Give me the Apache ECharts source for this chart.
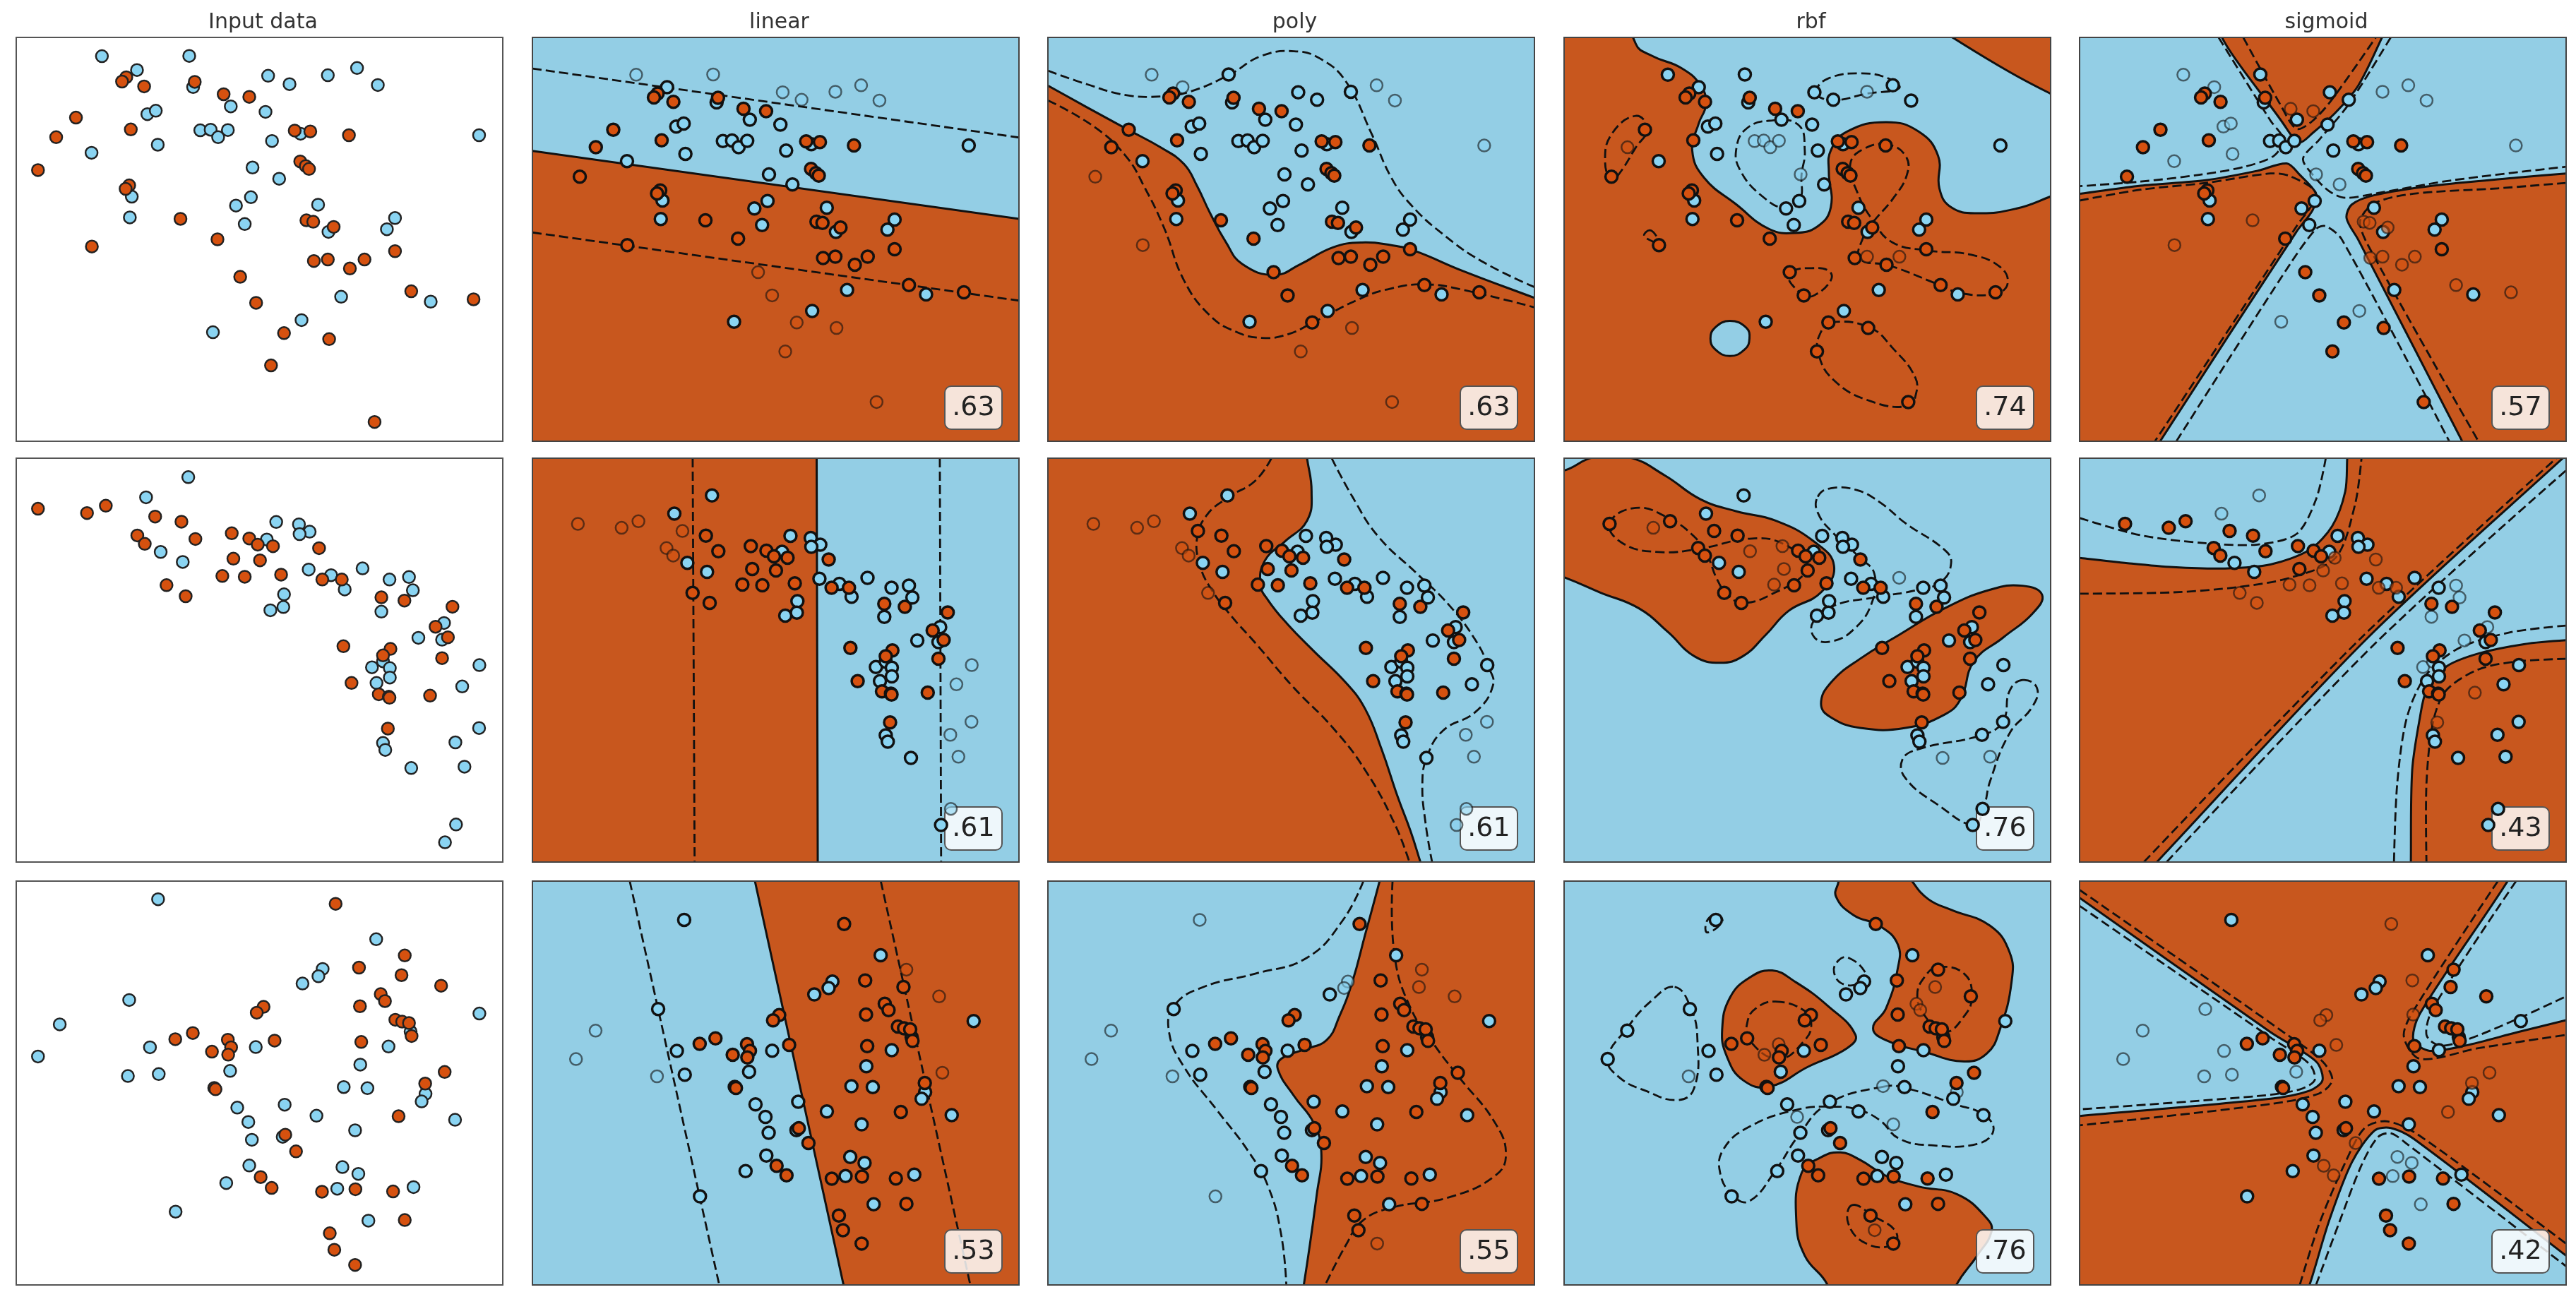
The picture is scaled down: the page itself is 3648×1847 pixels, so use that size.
<!DOCTYPE html>
<html>
<head>
<meta charset="utf-8">
<title>Classifier comparison</title>
<script src="https://cdn.jsdelivr.net/npm/echarts@6/dist/echarts.min.js"></script>
<style>
    html, body { margin: 0; padding: 0; background: #fff; }
    #main { width: 3648px; height: 1847px; }
</style>
</head>
<body>
<div id="main"></div>
<script>
const columnTitles = ['Input data', 'linear', 'poly', 'rbf', 'sigmoid'];

const row1Blue = [[292,195],[561,194],[400,243],[804,263],[870,292],[988,261],[1078,236],[1142,295],[573,302],[689,369],[796,388],[432,396],[458,384],[595,452],[627,450],[650,476],[680,451],[816,489],[904,464],[464,502],[260,530],[1454,469],[756,581],[838,620],[384,682],[751,684],[705,713],[958,710],[378,754],[732,777],[1195,756],[1170,795],[990,804],[1029,1029],[1305,1046],[907,1110],[634,1152]];
const row1Orange = [[367,268],[354,283],[422,300],[578,284],[667,327],[746,336],[212,408],[381,449],[151,476],[886,453],[934,456],[1053,469],[95,590],[903,560],[920,576],[930,586],[376,643],[365,655],[534,759],[922,764],[943,769],[1006,787],[648,830],[261,855],[1195,871],[945,905],[988,900],[1101,900],[1056,931],[718,960],[767,1050],[1245,1010],[1437,1038],[853,1155],[992,1176],[813,1267],[1132,1463]];
const row2Blue = [[558,95],[428,170],[829,261],[899,270],[932,297],[901,306],[800,326],[473,372],[541,409],[929,437],[1095,433],[998,458],[1178,474],[1238,465],[1040,511],[1250,514],[853,529],[851,576],[811,588],[1153,593],[1346,635],[1267,690],[1340,697],[1455,791],[1124,799],[1158,777],[1179,802],[1179,837],[1138,857],[1402,870],[1454,1024],[1381,1077],[1158,1079],[1165,1105],[1245,1172],[1409,1167],[1383,1381],[1349,1447]];
const row2Orange = [[95,212],[246,228],[304,201],[456,241],[537,260],[401,311],[424,342],[580,324],[692,303],[746,322],[772,345],[819,351],[961,358],[697,397],[779,403],[663,461],[732,464],[844,456],[971,474],[1031,474],[491,495],[550,536],[1153,540],[1224,552],[1372,575],[1320,649],[1358,688],[1036,721],[1181,731],[1158,755],[1340,765],[1061,857],[1145,899],[1176,908],[1178,912],[1303,904],[1173,1026]];
const row3Blue = [[465,100],[1137,248],[972,358],[959,385],[910,412],[376,473],[162,563],[1455,523],[440,648],[766,647],[1175,645],[95,682],[1088,712],[687,735],[372,754],[467,747],[1037,795],[1110,799],[1289,820],[1277,848],[855,860],[709,871],[743,924],[953,901],[1380,916],[1072,955],[849,979],[754,990],[746,1085],[1033,1091],[1082,1116],[675,1150],[1017,1171],[1252,1165],[519,1256],[1113,1289],[1243,590]];
const row3Orange = [[1012,117],[1225,308],[1084,353],[1215,381],[1337,420],[1151,451],[1164,477],[1087,496],[790,498],[769,520],[1196,546],[1217,553],[1238,558],[1246,606],[572,595],[518,618],[680,620],[690,648],[631,664],[681,675],[824,623],[1091,628],[1348,739],[1288,782],[638,798],[642,803],[1206,903],[857,971],[890,1033],[781,1128],[815,1168],[970,1182],[1073,1173],[1189,1181],[1225,1287],[994,1336],[1008,1397],[1072,1453]];

const scores = [['.63','.63','.74','.57'], ['.61','.61','.76','.43'], ['.53','.55','.76','.42']];

// axis ranges, read-off units
const inputX = [28, 1527];
const inputY = [[130, 1530], [25, 1520], [33, 1527]];
const pointX = [[-70.5, 1629.5], [-62, 1618], [-54, 1610]];
const pointY = [[50.4, 1615], [-57.6, 1599], [-62, 1626]];
const shapeX = [[15, 765], [810, 1561], [15, 763], [806, 1555]];
const shapeY = [[62, 1555], [25, 1545], [22, 1540]];

// row 1 contours
const r1LinearFill = [[[-100,443],[900,778],[900,1700],[-100,1700]]];
const r1LinearDash = [[[15,177],[765,432]], [[15,783],[765,1035]]];
const r1PolyFill = [[[740,147],[810,240],[870,320],[935,405],[985,470],[1020,530],[1040,610],[1060,710],[1085,820],[1110,900],[1160,940],[1200,900],[1250,838],[1295,820],[1340,830],[1375,850],[1450,925],[1561,1025],[1661,1115],[1661,1700],[700,1700],[700,147]]];
const r1PolyDash = [
    [[810,185],[870,235],[930,275],[985,280],[1030,262],[1090,200],[1140,130],[1190,113],[1230,140],[1270,225],[1310,420],[1340,580],[1370,680],[1420,790],[1480,890],[1561,985]],
    [[810,295],[880,390],[930,500],[960,620],[990,770],[1020,960],[1060,1090],[1100,1150],[1140,1173],[1180,1160],[1220,1115],[1290,1030],[1340,990],[1393,975],[1450,995],[1561,1060]]
];
const r1RbfFill = [
    [[120,-50],[125,85],[150,130],[195,175],[225,240],[233,310],[222,380],[212,480],[230,580],[280,680],[330,770],[370,785],[405,760],[425,690],[422,560],[425,480],[450,410],[510,375],[560,410],[590,500],[592,620],[610,690],[650,712],[710,695],[763,650],[860,560],[860,380],[763,270],[700,190],[612,62],[540,-50]],
    [[270,1110],[295,1135],[300,1175],[293,1215],[270,1240],[247,1215],[240,1175],[247,1135]]
];
const r1RbfLoops = [
    [[125,352],[143,400],[125,470],[100,565],[88,590],[78,520],[88,420]],
    [[147,775],[158,800],[165,830],[150,815],[138,795]],
    [[330,370],[375,385],[385,480],[380,570],[378,660],[358,695],[320,650],[285,550],[280,470],[295,400]],
    [[400,265],[420,215],[470,195],[515,215],[530,250],[480,270],[430,295],[405,280]],
    [[512,458],[475,475],[455,530],[465,630],[490,740],[520,820],[575,850],[640,865],[685,910],[697,970],[680,1008],[625,1008],[590,975],[515,905],[470,880],[475,800],[490,745],[520,660],[542,570],[540,500]],
    [[365,925],[395,915],[422,925],[425,960],[400,1015],[385,1015],[365,975],[360,945]],
    [[425,1115],[485,1135],[520,1210],[555,1320],[555,1390],[545,1425],[490,1410],[430,1330],[405,1222],[410,1150]]
];
const r1SigmoidFill = [
    [[1020,-20],[1125,400],[1145,450],[1165,415],[1200,340],[1235,240],[1270,70],[1285,-20]],
    [[700,670],[806,640],[900,610],[1000,590],[1080,555],[1125,528],[1145,570],[1170,640],[1165,700],[1140,780],[930,1555],[880,1740],[700,1740]],
    [[1650,550],[1555,565],[1480,580],[1350,610],[1260,645],[1225,680],[1217,730],[1235,810],[1395,1555],[1426,1700],[1650,1700]]
];
const r1SigmoidDash = [
    [[1058,62],[1115,310],[1140,400],[1165,370],[1195,290],[1262,62]],
    [[1020,62],[1100,370],[1120,440],[1105,500],[1060,540],[990,570],[900,595],[806,612]],
    [[1285,62],[1220,310],[1175,440],[1150,510],[1165,570],[1190,630],[1215,655],[1270,635],[1380,590],[1555,540]],
    [[955,1555],[1130,900],[1170,770],[1185,760],[1210,810],[1375,1555]],
    [[806,665],[900,625],[1000,600],[1100,565],[1130,575],[1170,640],[1140,760],[922,1555]],
    [[1555,600],[1450,620],[1320,640],[1260,675],[1238,740],[1250,830],[1420,1555]]
];

// row 2 contours
const r2LinearFill = [[[-100,-100],[453,-100],[455,1700],[-100,1700]]];
const r2LinearDash = [[[262,25],[265,1545]], [[643,25],[645,1545]]];
const r2PolyFill = [[[1205,-60],[1210,25],[1217,150],[1210,260],[1175,340],[1145,410],[1138,500],[1150,560],[1180,650],[1220,750],[1270,870],[1300,970],[1325,1120],[1350,1300],[1370,1430],[1385,1545],[1400,1660],[700,1660],[700,-60]]];
const r2PolyDash = [
    [[1155,25],[1130,110],[1090,170],[1055,240],[1040,330],[1045,430],[1060,510],[1090,610],[1130,720],[1190,890],[1250,1040],[1300,1200],[1345,1400],[1368,1545]],
    [[1248,25],[1280,170],[1320,320],[1380,460],[1430,580],[1470,710],[1490,810],[1497,880],[1470,980],[1420,1050],[1395,1150],[1388,1250],[1393,1400],[1403,1545]]
];
const r2RbfFill = [
    [[-60,120],[17,70],[60,22],[115,22],[170,90],[225,180],[280,225],[340,260],[400,340],[430,430],[410,530],[360,600],[325,690],[290,770],[255,795],[215,770],[175,680],[130,590],[70,530],[17,475],[-60,410]],
    [[720,505],[750,540],[735,610],[690,700],[645,790],[625,930],[600,990],[540,1040],[470,1040],[425,1000],[410,950],[425,870],[470,780],[530,690],[600,590],[670,520]]
];
const r2RbfLoops = [
    [[85,270],[125,212],[175,250],[215,320],[235,390],[250,480],[265,535],[290,570],[340,530],[385,460],[385,420],[350,345],[300,328],[225,365],[160,378],[105,345]],
    [[405,170],[425,138],[465,145],[500,190],[540,270],[600,370],[610,420],[595,490],[560,520],[490,550],[430,580],[398,640],[400,700],[425,715],[460,670],[488,570],[492,460],[470,400],[430,310],[405,230]],
    [[720,860],[742,890],[735,960],[700,1060],[670,1240],[660,1340],[645,1405],[590,1330],[540,1230],[535,1160],[560,1120],[660,1065],[690,1015],[700,900]]
];
const r2SigmoidFill = [
    [[1220,-60],[1218,25],[1215,150],[1195,280],[1160,370],[1100,425],[1030,440],[950,435],[880,420],[806,400],[700,370],[700,1660],[880,1660],[925,1545],[1250,700],[1550,25],[1590,-60]],
    [[1650,700],[1555,710],[1490,725],[1420,760],[1370,810],[1340,900],[1330,1000],[1318,1200],[1316,1545],[1316,1660],[1650,1660]]
];
const r2SigmoidDash = [
    [[806,250],[900,315],[1000,345],[1080,350],[1140,310],[1170,180],[1185,25]],
    [[806,535],[950,530],[1050,510],[1130,475],[1200,400],[1230,200],[1240,25]],
    [[905,1545],[1240,700],[1540,25]],
    [[940,1545],[1262,720],[1560,60]],
    [[1555,655],[1470,680],[1390,740],[1340,840],[1310,1000],[1295,1250],[1290,1545]],
    [[1555,780],[1480,790],[1420,820],[1370,900],[1350,1020],[1340,1250],[1340,1545]]
];

// row 3 contours
const r3LinearFill = [[[347,-100],[509,1700],[900,1700],[900,-100]]];
const r3LinearDash = [[[165,22],[303,1540]], [[552,22],[690,1540]]];
const r3PolyFill = [[[1330,-60],[1322,22],[1300,220],[1280,400],[1260,530],[1240,620],[1205,655],[1170,690],[1165,730],[1190,830],[1220,930],[1232,1040],[1225,1200],[1205,1540],[1195,1660],[1660,1660],[1660,-60]]];
const r3PolyDash = [
    [[1297,22],[1265,170],[1210,310],[1130,370],[1050,420],[1005,490],[997,590],[1020,720],[1070,880],[1120,1040],[1150,1170],[1170,1350],[1178,1540]],
    [[1342,22],[1345,300],[1370,500],[1410,650],[1445,760],[1500,930],[1517,1050],[1500,1130],[1430,1210],[1340,1250],[1295,1300],[1270,1390],[1238,1540]]
];
const r3RbfFill = [
    [[440,-60],[437,22],[433,80],[460,150],[500,190],[528,260],[528,350],[510,500],[490,575],[510,620],[570,665],[630,700],[665,670],[685,580],[703,400],[700,290],[670,190],[610,130],[575,90],[550,22],[530,-60]],
    [[335,358],[370,400],[420,490],[463,600],[450,650],[390,720],[330,795],[290,770],[265,680],[258,580],[270,460],[300,385]],
    [[440,1042],[470,1070],[510,1130],[560,1170],[620,1200],[665,1290],[672,1340],[650,1430],[618,1540],[600,1650],[430,1650],[420,1540],[385,1430],[372,1300],[380,1120],[410,1060]]
];
const r3RbfLoops = [
    [[250,148],[258,175],[235,215],[235,170]],
    [[452,310],[478,365],[475,400],[445,410],[430,365],[437,320]],
    [[590,345],[630,370],[642,455],[630,530],[600,590],[570,530],[558,450],[570,380]],
    [[340,475],[385,510],[395,560],[385,620],[345,690],[300,620],[297,550],[310,500]],
    [[185,420],[210,500],[220,620],[215,800],[190,845],[140,810],[100,760],[82,690],[110,580],[150,470]],
    [[458,1240],[490,1280],[525,1340],[520,1390],[480,1385],[452,1310]],
    [[505,795],[540,800],[615,860],[660,900],[675,960],[650,1010],[580,1015],[530,990],[500,920],[465,880],[430,870],[375,880],[300,945],[260,1030],[255,1120],[275,1205],[300,1225],[340,1110],[375,980],[420,860]]
];
const r3SigmoidFill = [
    [[700,-95],[806,85],[1100,590],[1170,700],[1180,770],[1160,810],[1100,840],[806,905],[700,928]],
    [[1480,-60],[1465,22],[1330,520],[1320,620],[1345,660],[1400,640],[1480,590],[1555,545],[1650,490],[1650,-60]],
    [[1140,1660],[1160,1540],[1190,1300],[1225,1080],[1260,960],[1285,950],[1320,990],[1555,1430],[1650,1608],[1650,1660]]
];
const r3SigmoidDash = [
    [[806,55],[1120,590],[1180,700],[1195,770],[1175,820],[1100,860],[806,940]],
    [[806,115],[1100,610],[1160,710],[1168,770],[1145,805],[1080,830],[806,880]],
    [[1450,22],[1330,470],[1305,600],[1330,690],[1420,650],[1555,600]],
    [[1478,22],[1350,500],[1340,600],[1360,640],[1400,620],[1480,540],[1555,455]],
    [[1145,1540],[1175,1310],[1215,1080],[1245,950],[1280,925],[1330,980],[1555,1385]],
    [[1170,1540],[1205,1310],[1240,1090],[1265,985],[1285,970],[1310,1010],[1555,1470]]
];

// indices of the points drawn faded in each panel
const r1Faded = [
    { b: [0,1,3,4,5,6,7], o: [29,30,33,34,35,36] },
    { b: [0,2,6,7,21], o: [12,23,34,35,36] },
    { b: [5,13,14,15,16,22], o: [8,26,27] },
    { b: [0,2,5,6,7,11,12,19,20,21,22,23,35,36], o: [4,5,18,19,20,21,23,25,26,27,28,31,32] }
];
const r2Faded = [
    { b: [23,29,30,31,35,36], o: [0,1,2,3,5,6] },
    { b: [30,31,35,36,37], o: [0,1,2,5,6,20] },
    { b: [10,34,35], o: [1,7,8,13,15] },
    { b: [0,1,13,15,19,20,21,24,25], o: [11,12,14,15,16,17,18,19,20,21,35,36] }
];
const r3Faded = [
    { b: [6,11,14], o: [1,4,22] },
    { b: [0,2,3,6,11,14,34], o: [1,3,4,37] },
    { b: [14,16,18,22,25], o: [3,5,6,16,18,36] },
    { b: [5,6,8,11,13,14,15,29,30,32,35], o: [0,2,7,8,9,20,22,23,26,28,29,30] }
];

const blueBg = '#93cee5';
const orangeBg = '#c8571e';
const bluePoint = '#8ad4f2';
const orangePoint = '#d6510f';
const inkColor = '#111';

const colLeft = [23, 754, 1484, 2215, 2945];
const rowTop = [53, 649, 1248];
const panelW = 689;
const panelH = 572;

const rows = [
    { blue: row1Blue, orange: row1Orange, faded: r1Faded, panels: [
        { bg: blueBg, fills: r1LinearFill, dash: r1LinearDash, smooth: 0 },
        { bg: blueBg, fills: r1PolyFill, dash: r1PolyDash, smooth: 0.45 },
        { bg: orangeBg, fills: r1RbfFill, loops: r1RbfLoops, smooth: 0.45 },
        { bg: blueBg, fills: r1SigmoidFill, dash: r1SigmoidDash, smooth: 0.3 }
    ] },
    { blue: row2Blue, orange: row2Orange, faded: r2Faded, panels: [
        { bg: blueBg, fills: r2LinearFill, dash: r2LinearDash, smooth: 0 },
        { bg: blueBg, fills: r2PolyFill, dash: r2PolyDash, smooth: 0.45 },
        { bg: blueBg, fills: r2RbfFill, loops: r2RbfLoops, smooth: 0.45 },
        { bg: blueBg, fills: r2SigmoidFill, dash: r2SigmoidDash, smooth: 0.3 }
    ] },
    { blue: row3Blue, orange: row3Orange, faded: r3Faded, panels: [
        { bg: blueBg, fills: r3LinearFill, dash: r3LinearDash, smooth: 0 },
        { bg: blueBg, fills: r3PolyFill, dash: r3PolyDash, smooth: 0.45 },
        { bg: blueBg, fills: r3RbfFill, loops: r3RbfLoops, smooth: 0.45 },
        { bg: orangeBg, fills: r3SigmoidFill, dash: r3SigmoidDash, smooth: 0.3 }
    ] }
];

let grids = [], xAxes = [], yAxes = [], series = [];

function addGrid(col, row, opts, xr, yr) {
    grids.push(Object.assign({ left: colLeft[col], top: rowTop[row], width: panelW, height: panelH, containLabel: false }, opts));
    xAxes.push({ type: 'value', gridIndex: grids.length - 1, min: xr[0], max: xr[1], show: false });
    yAxes.push({ type: 'value', gridIndex: grids.length - 1, min: yr[0], max: yr[1], inverse: true, show: false });
    return grids.length - 1;
}

// regions and dashed margins of one panel, on the crop's own scale
function addShapes(idx, panel) {
    let fills = panel.fills;
    series.push({
        type: 'custom', xAxisIndex: idx, yAxisIndex: idx, z: 2, clip: true, silent: true,
        data: fills.map((f, i) => [i]),
        renderItem: function (params, api) {
            return {
                type: 'polygon',
                shape: { points: fills[params.dataIndex].map(p => api.coord(p)), smooth: panel.smooth },
                style: { fill: panel.bg === blueBg ? orangeBg : blueBg, stroke: inkColor, lineWidth: 3 }
            };
        }
    });
    let lines = panel.dash || panel.loops;
    series.push({
        type: 'custom', xAxisIndex: idx, yAxisIndex: idx, z: 2.1, clip: true, silent: true,
        data: lines.map((l, i) => [i]),
        renderItem: function (params, api) {
            return {
                type: panel.loops ? 'polygon' : 'polyline',
                shape: { points: lines[params.dataIndex].map(p => api.coord(p)), smooth: panel.smooth },
                style: { fill: 'none', stroke: inkColor, lineWidth: 2.8, lineDash: [13, 6] }
            };
        }
    });
}

function addScore(idx, text, xr, yr) {
    series.push({
        type: 'custom', xAxisIndex: idx, yAxisIndex: idx, z: 3, silent: true,
        data: [[0]],
        renderItem: function (params, api) {
            let corner = api.coord([xr[1], yr[1]]);
            let x = corner[0] - 24 - 81, y = corner[1] - 17 - 61;
            return {
                type: 'group',
                children: [{
                    type: 'rect',
                    shape: { x: x, y: y, width: 81, height: 61, r: 9 },
                    style: { fill: 'rgba(255,255,255,0.84)', stroke: '#555', lineWidth: 2 }
                }, {
                    type: 'text',
                    style: { x: x + 40.5, y: y + 31, text: text, fill: '#222', align: 'center', verticalAlign: 'middle', font: '38px "DejaVu Sans"' }
                }]
            };
        }
    });
}

function addPoints(idx, row, faded) {
    let item = function (p, i, color, list) {
        let soft = list && list.indexOf(i) >= 0;
        return {
            value: p,
            itemStyle: {
                color: color,
                borderColor: faded ? inkColor : '#222',
                borderWidth: faded ? (soft ? 2.5 : 3.5) : 2.5,
                opacity: soft ? 0.6 : 1
            }
        };
    };
    series.push({
        type: 'scatter', xAxisIndex: idx, yAxisIndex: idx, z: 4, symbolSize: 17, silent: true,
        data: row.blue.map((p, i) => item(p, i, bluePoint, faded && faded.b))
            .concat(row.orange.map((p, i) => item(p, i, orangePoint, faded && faded.o)))
    });
}

let titles = columnTitles.map((t, c) => ({
    text: t,
    left: colLeft[c] + panelW / 2,
    top: 12,
    textAlign: 'center',
    textStyle: { fontFamily: 'DejaVu Sans', fontSize: 30, fontWeight: 'normal', color: '#333' }
}));

rows.forEach(function (row, r) {
    let g = addGrid(0, r, { show: true, backgroundColor: '#fff', borderColor: '#555', borderWidth: 2 }, inputX, inputY[r]);
    addPoints(g, row, null);
    row.panels.forEach(function (panel, c) {
        let sx = addGrid(c + 1, r, { show: true, backgroundColor: panel.bg, borderWidth: 0 }, shapeX[c], shapeY[r]);
        addShapes(sx, panel);
        addScore(sx, scores[r][c], shapeX[c], shapeY[r]);
        let px = addGrid(c + 1, r, { show: true, z: 5, backgroundColor: 'transparent', borderColor: '#444', borderWidth: 2 }, pointX[r], pointY[r]);
        addPoints(px, row, row.faded[c]);
    });
});

let myChart = echarts.init(document.getElementById('main'));
myChart.setOption({
    animation: false,
    backgroundColor: '#fff',
    title: titles,
    tooltip: { show: false },
    grid: grids,
    xAxis: xAxes,
    yAxis: yAxes,
    series: series
});
</script>
</body>
</html>
